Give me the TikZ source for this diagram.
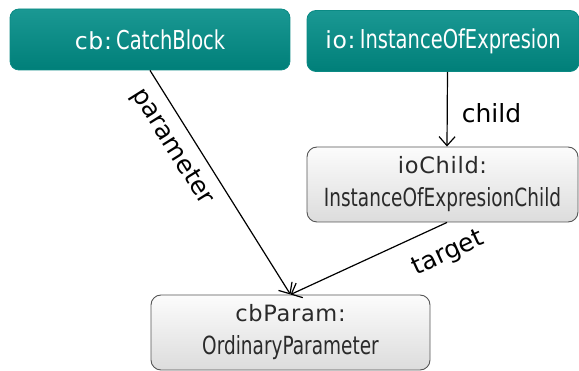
\documentclass[tikz,border=0pt]{standalone}
\usepackage{fontspec}
\setmainfont{DejaVu Sans}
\newfontfamily\namefont{DejaVu Sans}[LetterSpace=3]
\newfontfamily\typefont{DejaVu Sans}[FakeStretch=0.75]
\newfontfamily\typefontb{DejaVu Sans}[FakeStretch=0.74]
\usetikzlibrary{arrows.meta}
\definecolor{tealtop}{HTML}{1A9893}
\definecolor{tealbot}{HTML}{007F79}
\definecolor{tealedge}{HTML}{0B8A84}
\definecolor{greytop}{HTML}{FCFCFC}
\definecolor{greybot}{HTML}{DCDCDC}
\definecolor{greyedge}{HTML}{555555}
\definecolor{txtdark}{HTML}{2A2A2A}
\newcommand{\nm}[1]{{\fontsize{23.5}{26}\namefont #1}}
\newcommand{\nmg}[1]{{\fontsize{22.5}{26}\namefont #1}}
\newcommand{\tp}[1]{{\fontsize{26}{26}\typefont #1}}
\newcommand{\tpg}[1]{{\fontsize{25}{26}\typefontb #1}}
\tikzset{
  tealbox/.style={rounded corners=9pt, top color=tealtop, bottom color=tealbot,
    draw=tealedge, line width=0.8pt, text=white, inner sep=0pt},
  greybox/.style={rounded corners=10pt, top color=greytop, bottom color=greybot,
    draw=greyedge, line width=0.9pt, text=txtdark, inner sep=0pt, align=center,
    font=\fontsize{22}{33}\selectfont},
  conn/.style={draw=black, line width=1.2pt, -{Straight Barb[length=9pt,width=16pt,line width=1.2pt]}},
  lbl/.style={text=black, inner sep=0pt, font=\fontsize{25}{28}\selectfont}
}
\begin{document}
\begin{tikzpicture}[x=1pt,y=-1pt]
\useasboundingbox (0,0) rectangle (579,371);
\node[tealbox, minimum width=280pt, minimum height=61pt] (cb) at (150,39.5)
  {\nm{cb:} \tp{CatchBlock}};
\node[tealbox, minimum width=272pt, minimum height=61pt] (io) at (443,41)
  {\nm{io:} \tp{InstanceOfExpresion}};
\node[greybox, minimum width=271pt, minimum height=75pt] (ioc) at (442.5,184.5)
  {\nmg{ioChild:}\\\tpg{InstanceOfExpresionChild}};
\node[greybox, minimum width=279pt, minimum height=75pt] (cbp) at (290.5,332.5)
  {\nmg{cbParam:}\\\tpg{OrdinaryParameter}};
\draw[conn] ([xshift=4.5pt]io.south) -- node[lbl, anchor=west, xshift=14pt, yshift=-4pt] {child} ([xshift=4.5pt]ioc.north);
\draw[conn] (cb.south) -- node[lbl, sloped, pos=0.29, yshift=-22pt] {parameter} (cbp.north);
\draw[conn] ([xshift=4.5pt]ioc.south) -- node[lbl, sloped, pos=0.07, yshift=-29pt] {target} (cbp.north);
\end{tikzpicture}
\end{document}
